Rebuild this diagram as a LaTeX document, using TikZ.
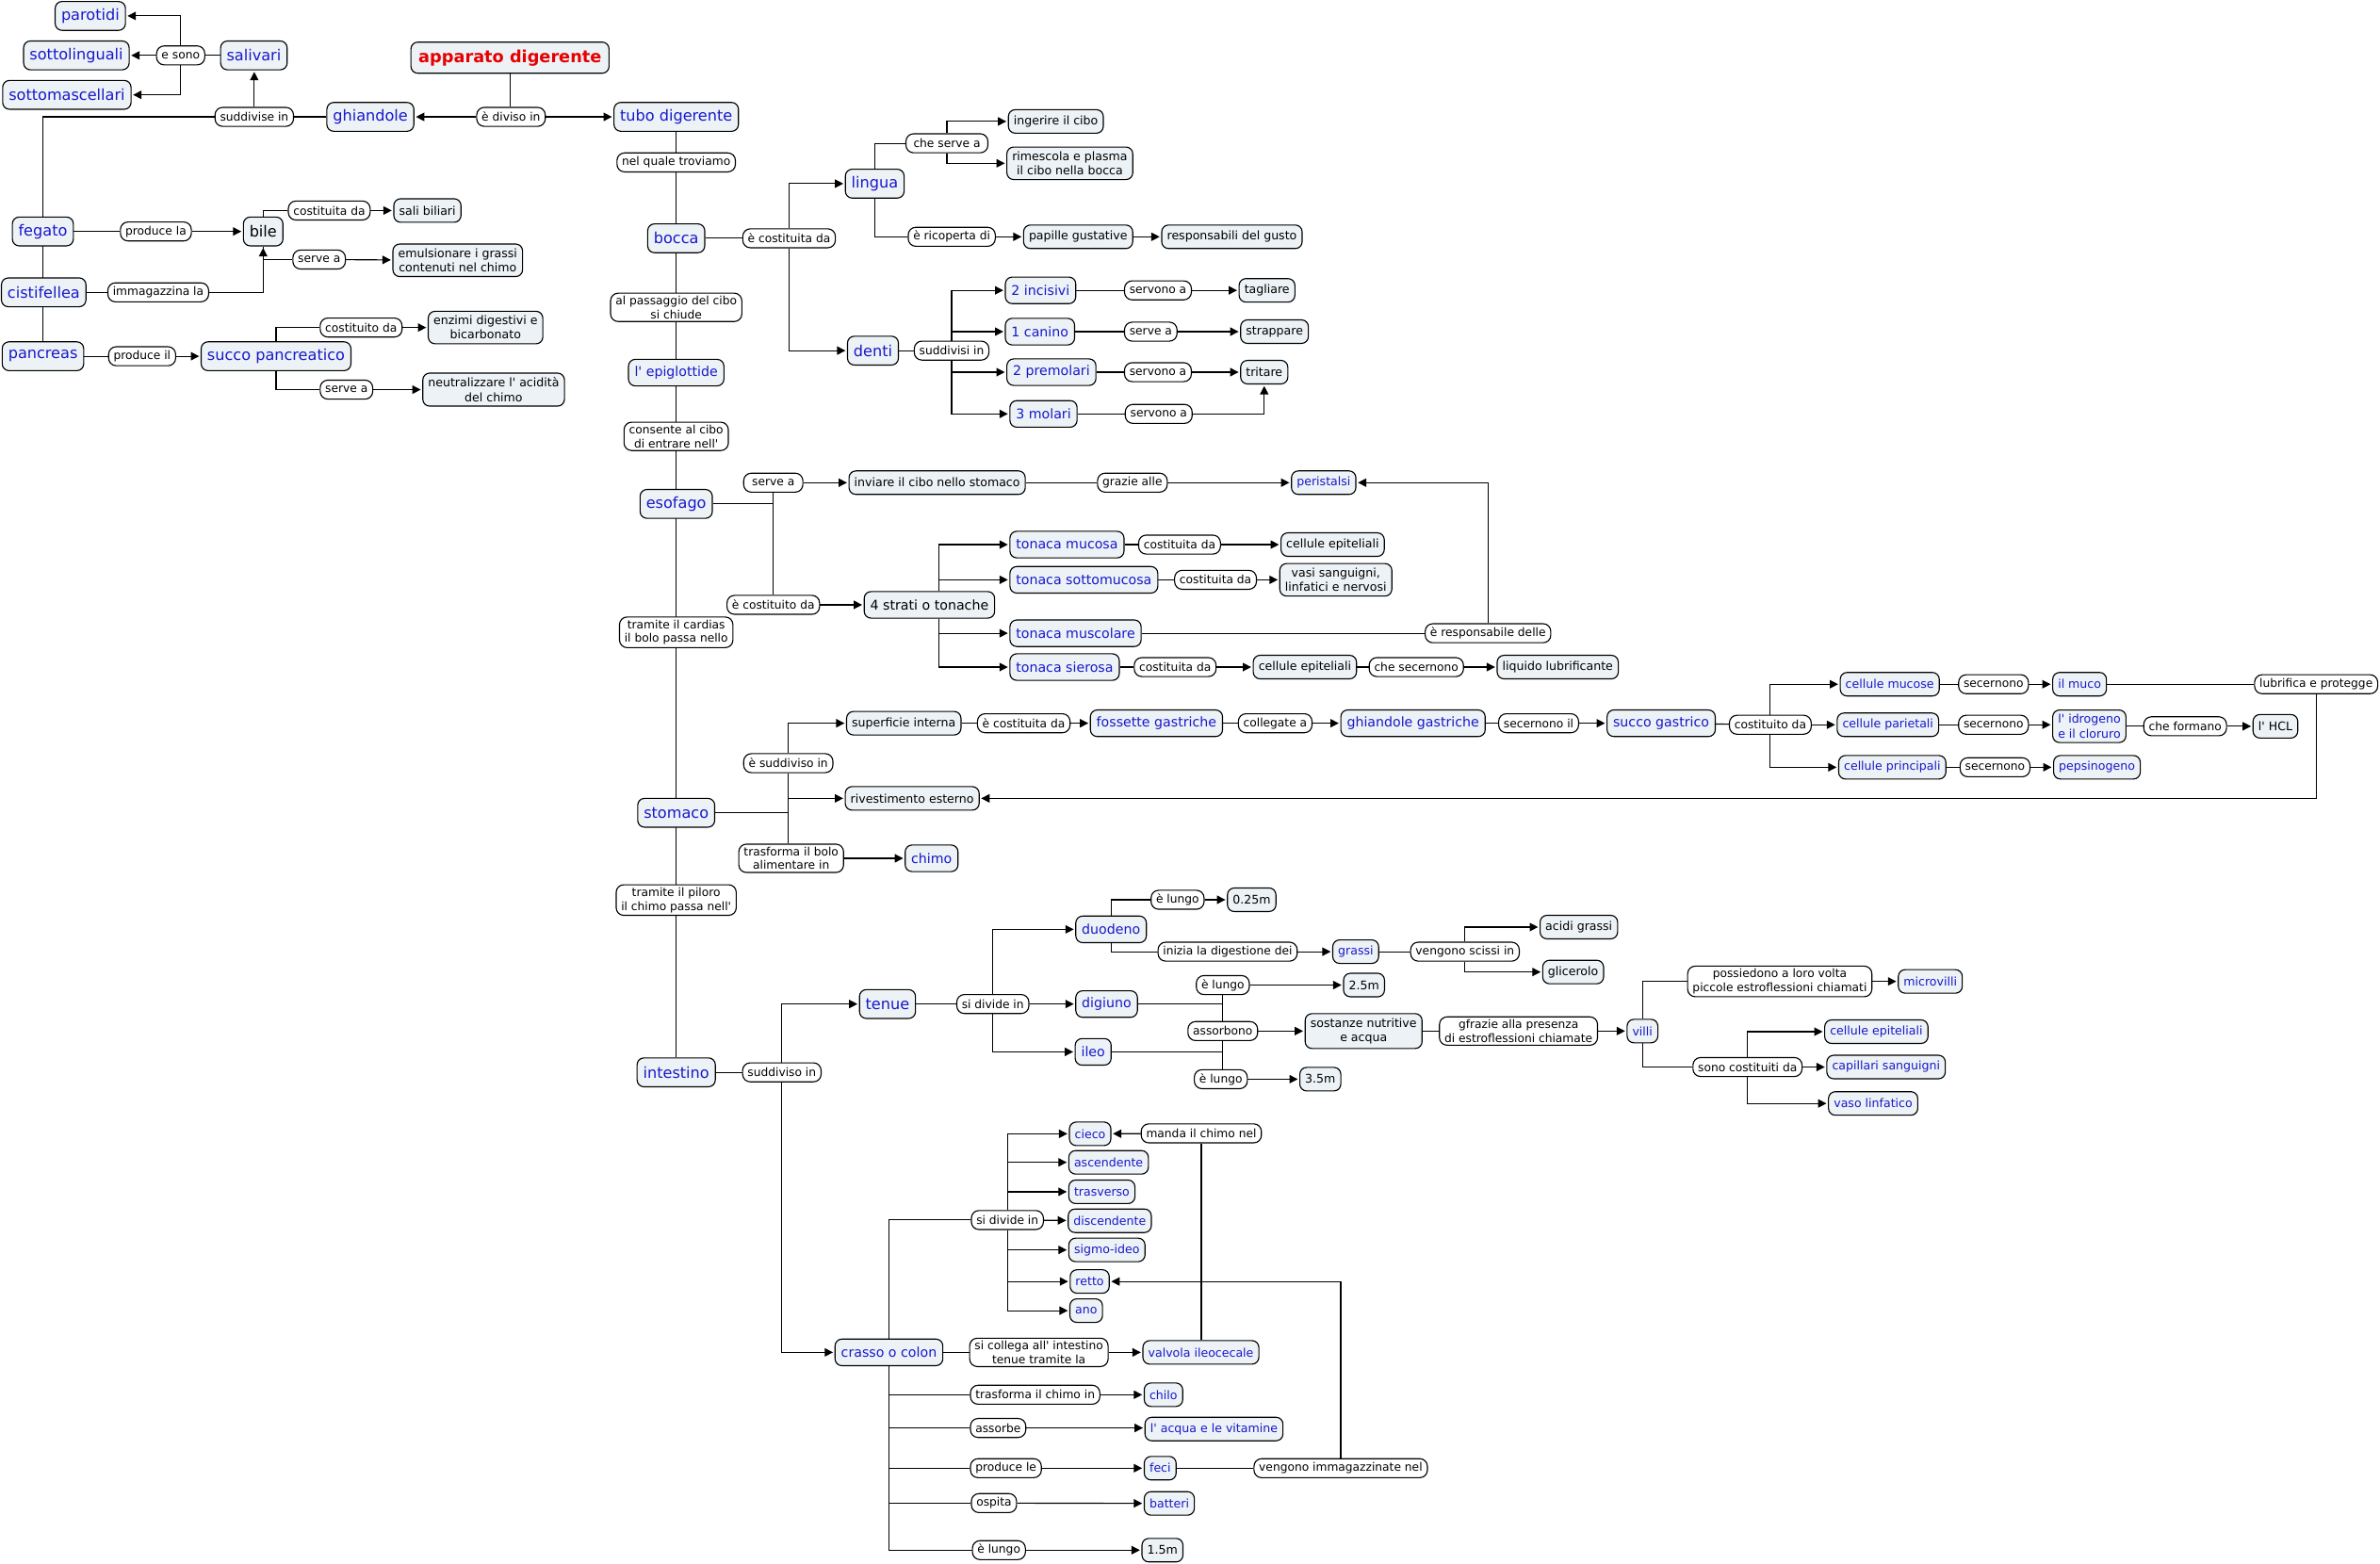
\documentclass[tikz,border=0pt]{standalone}
\usepackage{fontspec}
\setmainfont{DejaVu Sans}[Ligatures=TeXOff]
\usetikzlibrary{arrows.meta,backgrounds}
\definecolor{cfill}{RGB}{236,242,245}
\definecolor{cblue}{RGB}{24,24,204}
\definecolor{cred}{RGB}{230,0,0}
\tikzset{
 basebox/.style={draw=black, line width=0.7pt, rounded corners=4.5pt, align=center},
 big/.style={basebox, fill=cfill, text=cblue, font=\fontsize{10}{12}\selectfont, inner xsep=4pt, inner ysep=3pt, minimum height=19pt},
 mid/.style={basebox, fill=cfill, text=cblue, font=\fontsize{8.8}{10.6}\selectfont, inner xsep=4pt, inner ysep=3pt, minimum height=17.5pt},
 sml/.style={basebox, fill=cfill, text=cblue, font=\fontsize{7.8}{9.4}\selectfont, inner xsep=3.5pt, inner ysep=3pt, minimum height=15.5pt},
 bigk/.style={big, text=black},
 midk/.style={mid, text=black},
 leaf/.style={sml, text=black},
 lab/.style={basebox, fill=white, text=black, font=\fontsize{7.6}{9.2}\selectfont, inner xsep=3.3pt, inner ysep=1.8pt, minimum height=12.5pt, rounded corners=5pt},
 titlebox/.style={basebox, fill=cfill, text=cred, font=\bfseries\fontsize{11}{13}\selectfont, inner xsep=5pt, minimum height=20.5pt},
 ln/.style={line width=0.7pt},
 arr/.style={line width=0.7pt, -{Triangle[length=5.5pt,width=5.5pt]}, shorten >=1pt},
}
\begin{document}
\begin{tikzpicture}[x=1pt,y=-1pt]
\useasboundingbox (0,0) rectangle (1568,1030);

% ---------- top-left ----------
\node[big,anchor=west] (parotidi) at (36,10.5) {parotidi};
\node[big,anchor=west] (sottoling) at (15.2,36.5) {sottolinguali};
\node[big,anchor=west] (sottomasc) at (1.4,62.5) {sottomascellari};
\node[lab,anchor=west] (esono) at (102.8,36.5) {e sono};
\node[big,anchor=west] (salivari) at (145,36.5) {salivari};
\node[lab,anchor=west] (suddivise) at (141.3,77) {suddivise in};
\node[big,anchor=west] (ghiandole) at (215,77) {ghiandole};
\node[titlebox] (apparato) at (336,38) {apparato digerente};
\node[lab,anchor=west] (ediviso) at (313.7,77) {è diviso in};
\node[big] (tubo) at (445.5,77) {tubo digerente};

% ---------- spine ----------
\node[lab] (nelquale) at (445.5,107) {nel quale troviamo};
\node[big] (bocca) at (445.5,157) {bocca};
\node[lab] (passaggio) at (445.5,202.5) {al passaggio del cibo\\si chiude};
\node[mid] (epiglottide) at (445.5,245.5) {l' epiglottide};
\node[lab] (consente) at (445.5,287.5) {consente al cibo\\di entrare nell'};
\node[big] (esofago) at (445.5,332) {esofago};
\node[lab] (cardias) at (445.5,416.6) {tramite il cardias\\il bolo passa nello};
\node[big] (stomaco) at (445.5,535.5) {stomaco};
\node[lab] (piloro) at (445.5,593) {tramite il piloro\\il chimo passa nell'};
\node[big] (intestino) at (445.5,706.5) {intestino};

% ---------- left ----------
\node[big,anchor=west] (fegato) at (7.8,152.5) {fegato};
\node[lab,anchor=west] (producela) at (79,152.5) {produce la};
\node[bigk,anchor=west] (bile) at (160,152.5) {bile};
\node[lab,anchor=west] (costituitab) at (189.6,138.7) {costituita da};
\node[leaf,anchor=west] (sali) at (259.1,138.7) {sali biliari};
\node[lab,anchor=west] (serveab) at (192.6,171) {serve a};
\node[leaf,anchor=west] (emulsionare) at (258.5,171.5) {emulsionare i grassi\\contenuti nel chimo};
\node[big,anchor=west] (cistifellea) at (0.6,192.6) {cistifellea};
\node[lab,anchor=west] (immagazzina) at (70.7,192.6) {immagazzina la};
\node[big,anchor=west] (pancreas) at (1.1,234.7) {pancreas};
\node[lab,anchor=west] (produceil) at (71.2,234.7) {produce il};
\node[big,anchor=west] (succopanc) at (132.2,234.7) {succo pancreatico};
\node[lab,anchor=west] (costituitosp) at (210.6,215.8) {costituito da};
\node[leaf,anchor=west] (enzimi) at (281.8,215.8) {enzimi digestivi e\\bicarbonato};
\node[lab,anchor=west] (serveasp) at (210.6,256.7) {serve a};
\node[leaf,anchor=west] (neutralizzare) at (278.2,256.7) {neutralizzare l' acidità\\del chimo};

% ---------- bocca ----------
\node[lab,anchor=west] (ecostbocca) at (489,157) {è costituita da};
\node[big,anchor=west] (lingua) at (556.6,121) {lingua};
\node[lab,anchor=west,minimum width=54pt] (cheserve) at (596.5,94.4) {che serve a};
\node[leaf,anchor=west] (ingerire) at (664,80) {ingerire il cibo};
\node[leaf,anchor=west] (rimescola) at (663,107.6) {rimescola e plasma\\il cibo nella bocca};
\node[lab,anchor=west] (ricoperta) at (598,156) {è ricoperta di};
\node[leaf,anchor=west] (papille) at (674,156) {papille gustative};
\node[leaf,anchor=west] (responsabili) at (765,156) {responsabili del gusto};
\node[big,anchor=west] (denti) at (558,231) {denti};
\node[lab,anchor=west] (suddivisi) at (602,231) {suddivisi in};
\node[mid,anchor=west] (incisivi) at (662,191.3) {2 incisivi};
\node[mid,anchor=west] (canino) at (662,218.5) {1 canino};
\node[mid,anchor=west] (premolari) at (663,245.2) {2 premolari};
\node[mid,anchor=west] (molari) at (665,272.7) {3 molari};
\node[lab,anchor=west] (servonoa) at (740.5,191.3) {servono a};
\node[lab,anchor=west] (serveb) at (740.5,218.5) {serve a};
\node[lab,anchor=west] (servonob) at (740.5,245.2) {servono a};
\node[lab,anchor=west] (servonoc) at (741,272.7) {servono a};
\node[leaf,anchor=west] (tagliare) at (816,191.3) {tagliare};
\node[leaf,anchor=west] (strappare) at (817,218.5) {strappare};
\node[leaf,anchor=west] (tritare) at (817,245.2) {tritare};

% ---------- esofago ----------
\node[lab,anchor=west,minimum width=39pt] (serveaes) at (489.6,318) {serve a};
\node[leaf,anchor=west] (inviare) at (559,318) {inviare il cibo nello stomaco};
\node[lab,anchor=west] (grazie) at (722.7,318) {grazie alle};
\node[sml,anchor=west] (peristalsi) at (850.5,318) {peristalsi};
\node[lab,anchor=west] (ecostituito) at (478.6,398.5) {è costituito da};
\node[midk,anchor=west] (strati) at (569,398.5) {4 strati o tonache};
\node[mid,anchor=west] (mucosa) at (665,358.8) {tonaca mucosa};
\node[mid,anchor=west] (sottomucosa) at (665,382) {tonaca sottomucosa};
\node[mid,anchor=west] (muscolare) at (665,417.2) {tonaca muscolare};
\node[mid,anchor=west] (sierosa) at (665,439.5) {tonaca sierosa};
\node[lab,anchor=west] (costda) at (749.8,358.8) {costituita da};
\node[leaf,anchor=west] (cellepa) at (843.6,358.8) {cellule epiteliali};
\node[lab,anchor=west] (costdb) at (773.5,382) {costituita da};
\node[leaf,anchor=west] (vasi) at (842.8,382) {vasi sanguigni,\\linfatici e nervosi};
\node[lab,anchor=west] (responsabile) at (938.6,417.2) {è responsabile delle};
\node[lab,anchor=west] (costdc) at (746.9,439.5) {costituita da};
\node[leaf,anchor=west] (cellepb) at (825.3,439.5) {cellule epiteliali};
\node[lab,anchor=west] (chesecernono) at (901.7,439.5) {che secernono};
\node[leaf,anchor=west] (liquido) at (986,439.5) {liquido lubrificante};

% ---------- stomaco ----------
\node[lab,anchor=west] (suddivisost) at (489.6,502.8) {è suddiviso in};
\node[leaf,anchor=west] (superficie) at (557.4,476.5) {superficie interna};
\node[lab,anchor=west] (ecostdasup) at (643.6,476.5) {è costituita da};
\node[mid,anchor=west] (fossette) at (718,476.5) {fossette gastriche};
\node[lab,anchor=west] (collegate) at (815.5,476.5) {collegate a};
\node[mid,anchor=west] (ghgastriche) at (883,476.5) {ghiandole gastriche};
\node[lab,anchor=west] (secernonoil) at (987,476.5) {secernono il};
\node[mid,anchor=west] (succogastrico) at (1058.4,476.5) {succo gastrico};
\node[lab,anchor=west] (costituitosg) at (1139,477.5) {costituito da};
\node[sml,anchor=west] (cellmucose) at (1212,450.8) {cellule mucose};
\node[sml,anchor=west] (cellparietali) at (1210,477.5) {cellule parietali};
\node[sml,anchor=west] (cellprincipali) at (1211,505.5) {cellule principali};
\node[lab,anchor=west] (secernonoa) at (1290,450.8) {secernono};
\node[lab,anchor=west] (secernonob) at (1290,477.5) {secernono};
\node[lab,anchor=west] (secernonoc) at (1291,505.5) {secernono};
\node[sml,anchor=west] (muco) at (1352,450.8) {il muco};
\node[sml,anchor=west] (idrogeno) at (1352,478.5) {l' idrogeno\\e il cloruro};
\node[sml,anchor=west] (pepsinogeno) at (1352.6,505.5) {pepsinogeno};
\node[lab,anchor=west] (cheformano) at (1412,478.5) {che formano};
\node[leaf,anchor=west] (hcl) at (1484,478.5) {l' HCL};
\node[lab,anchor=west] (lubrifica) at (1485,450.8) {lubrifica e protegge};
\node[leaf,anchor=west] (rivestimento) at (556.5,526) {rivestimento esterno};
\node[lab,anchor=west] (trasformast) at (486.4,565.5) {trasforma il bolo\\alimentare in};
\node[mid,anchor=west] (chimo) at (596,565.5) {chimo};

% ---------- intestino tenue ----------
\node[lab,anchor=west] (suddivisoint) at (488.9,706.5) {suddiviso in};
\node[big,anchor=west] (tenue) at (565.9,661.5) {tenue};
\node[lab,anchor=west] (sidividet) at (630,661.5) {si divide in};
\node[mid,anchor=west] (duodeno) at (708.4,612.3) {duodeno};
\node[mid,anchor=west] (digiuno) at (708.4,661.5) {digiuno};
\node[mid,anchor=west] (ileo) at (708,693) {ileo};
\node[lab,anchor=west] (elungod) at (758,592.8) {è lungo};
\node[leaf,anchor=west] (mzerovc) at (808.3,592.8) {0.25m};
\node[lab,anchor=west] (inizia) at (762.6,627) {inizia la digestione dei};
\node[sml,anchor=west] (grassi) at (877.7,627) {grassi};
\node[lab,anchor=west] (vengono) at (929,627) {vengono scissi in};
\node[leaf,anchor=west] (acidi) at (1014.3,610.8) {acidi grassi};
\node[leaf,anchor=west] (glicerolo) at (1016,640.4) {glicerolo};
\node[lab,anchor=west] (elungodg) at (787.8,649) {è lungo};
\node[leaf,anchor=west] (mdue) at (884.8,649) {2.5m};
\node[lab,anchor=west] (assorbono) at (782.3,679.3) {assorbono};
\node[leaf,anchor=west] (sostanze) at (859.5,679.3) {sostanze nutritive\\e acqua};
\node[lab,anchor=west] (gfrazie) at (948,679.3) {gfrazie alla presenza\\di estroflessioni chiamate};
\node[sml,anchor=west] (villi) at (1071.6,679.3) {villi};
\node[lab,anchor=west] (possiedono) at (1111.5,646.6) {possiedono a loro volta\\piccole estroflessioni chiamati};
\node[sml,anchor=west] (microvilli) at (1250.3,646.6) {microvilli};
\node[lab,anchor=west] (sonocost) at (1115,703) {sono costituiti da};
\node[sml,anchor=west] (cellepc) at (1201.8,679.7) {cellule epiteliali};
\node[sml,anchor=west] (capillari) at (1203.2,703) {capillari sanguigni};
\node[sml,anchor=west] (vaso) at (1204.3,727) {vaso linfatico};
\node[lab,anchor=west] (elungoi) at (786.5,711) {è lungo};
\node[leaf,anchor=west] (mtre) at (856,711) {3.5m};

% ---------- crasso ----------
\node[mid,anchor=west] (crasso) at (549.8,891) {crasso o colon};
\node[lab,anchor=west] (sidividec) at (639.6,803.8) {si divide in};
\node[sml,anchor=west] (cieco) at (704.2,747) {cieco};
\node[sml,anchor=west] (ascendente) at (703.8,765.8) {ascendente};
\node[sml,anchor=west] (trasverso) at (703.8,785.2) {trasverso};
\node[sml,anchor=west] (discendente) at (703.4,804.3) {discendente};
\node[sml,anchor=west] (sigmo) at (703.8,823.5) {sigmo-ideo};
\node[sml,anchor=west] (retto) at (704.7,844.3) {retto};
\node[sml,anchor=west] (ano) at (704.5,863.5) {ano};
\node[lab,anchor=west] (manda) at (751.5,746.7) {manda il chimo nel};
\node[lab,anchor=west] (collega) at (638.5,891) {si collega all' intestino\\tenue tramite la};
\node[sml,anchor=west] (valvola) at (752.6,891) {valvola ileocecale};
\node[lab,anchor=west] (trasformac) at (639,918.9) {trasforma il chimo in};
\node[sml,anchor=west] (chilo) at (753.5,918.9) {chilo};
\node[lab,anchor=west] (assorbe) at (639,940.8) {assorbe};
\node[sml,anchor=west] (acqua) at (754,941.5) {l' acqua e le vitamine};
\node[lab,anchor=west] (producele) at (639,967.3) {produce le};
\node[sml,anchor=west] (feci) at (753.5,967.3) {feci};
\node[lab,anchor=west] (vengonoimm) at (825.8,967.3) {vengono immagazzinate nel};
\node[lab,anchor=west] (ospita) at (639.6,990.3) {ospita};
\node[sml,anchor=west] (batteri) at (753.5,990.5) {batteri};
\node[lab,anchor=west] (elungoc) at (640.3,1021.3) {è lungo};
\node[leaf,anchor=west] (muno) at (752,1021.3) {1.5m};

\begin{pgfonlayer}{background}
\fill[white] (0,0) rectangle (1568,1030);
% top-left
\draw[ln] (esono) -- (salivari);
\draw[arr] (esono.north) |- (parotidi.east);
\draw[arr] (esono) -- (sottoling);
\draw[arr] (esono.south) |- (sottomasc.east);
\draw[arr] (suddivise.north) -- (suddivise.north |- salivari.south);
\draw[ln] (ghiandole) -- (suddivise);
\draw[ln] (suddivise.west) -| (fegato.north);
\draw[ln] (apparato.south) -- (apparato.south |- ediviso.north);
\draw[arr] (ediviso) -- (ghiandole);
\draw[arr] (ediviso) -- (tubo);
% spine
\draw[ln] (tubo) -- (intestino);
% left
\draw[ln] (fegato.center) -- (fegato.center |- pancreas.center);
\draw[ln] (fegato) -- (producela);
\draw[arr] (producela) -- (bile);
\draw[ln] (bile.north) |- (costituitab.west);
\draw[arr] (costituitab) -- (sali);
\draw[ln] (bile.south) |- (serveab.west);
\draw[arr] (serveab) -- (emulsionare);
\draw[ln] (cistifellea) -- (immagazzina);
\draw[arr] (immagazzina.east) -| (bile.south);
\draw[ln] (pancreas) -- (produceil);
\draw[arr] (produceil) -- (succopanc);
\draw[ln] (succopanc.north) |- (costituitosp.west);
\draw[arr] (costituitosp) -- (enzimi);
\draw[ln] (succopanc.south) |- (serveasp.west);
\draw[arr] (serveasp) -- (neutralizzare);
% bocca
\draw[ln] (bocca) -- (ecostbocca);
\draw[arr] (ecostbocca.north) |- (lingua.west);
\draw[arr] (ecostbocca.south) |- (denti.west);
\draw[ln] (lingua.north) |- (cheserve.west);
\draw[arr] (cheserve.north) |- (ingerire.west);
\draw[arr] (cheserve.south) |- (rimescola.west);
\draw[ln] (lingua.south) |- (ricoperta.west);
\draw[arr] (ricoperta) -- (papille);
\draw[arr] (papille) -- (responsabili);
\draw[ln] (denti) -- (suddivisi);
\draw[arr] (suddivisi.north) |- (incisivi.west);
\draw[arr] (suddivisi.north) |- (canino.west);
\draw[arr] (suddivisi.south) |- (premolari.west);
\draw[arr] (suddivisi.south) |- (molari.west);
\draw[ln] (incisivi) -- (servonoa);
\draw[arr] (servonoa) -- (tagliare);
\draw[ln] (canino) -- (serveb);
\draw[arr] (serveb) -- (strappare);
\draw[ln] (premolari) -- (servonob);
\draw[arr] (servonob) -- (tritare);
\draw[ln] (molari) -- (servonoc);
\draw[arr] (servonoc.east) -| (tritare.south);
% esofago
\draw[ln] (esofago.east) -- (esofago.east -| serveaes.south);
\draw[ln] (serveaes.south) -- (serveaes.south |- ecostituito.north);
\draw[arr] (serveaes) -- (inviare);
\draw[ln] (inviare) -- (grazie);
\draw[arr] (grazie) -- (peristalsi);
\draw[arr] (ecostituito) -- (strati);
\draw[arr] ([xshift=6pt]strati.north) |- (mucosa.west);
\draw[arr] ([xshift=6pt]strati.north) |- (sottomucosa.west);
\draw[arr] ([xshift=6pt]strati.south) |- (muscolare.west);
\draw[arr] ([xshift=6pt]strati.south) |- (sierosa.west);
\draw[ln] (mucosa) -- (costda);
\draw[arr] (costda) -- (cellepa);
\draw[ln] (sottomucosa) -- (costdb);
\draw[arr] (costdb) -- (vasi);
\draw[ln] (muscolare) -- (responsabile);
\draw[arr] (responsabile.north) |- (peristalsi.east);
\draw[ln] (sierosa) -- (costdc);
\draw[arr] (costdc) -- (cellepb);
\draw[ln] (cellepb) -- (chesecernono);
\draw[arr] (chesecernono) -- (liquido);
% stomaco
\draw[ln] (stomaco.east) -- (stomaco.east -| suddivisost.south);
\draw[ln] (suddivisost.south) -- (suddivisost.south |- trasformast.north);
\draw[arr] (suddivisost.north) |- (superficie.west);
\draw[arr] (suddivisost.south |- rivestimento.west) -- (rivestimento.west);
\draw[arr] (trasformast) -- (chimo);
\draw[ln] (superficie) -- (ecostdasup);
\draw[arr] (ecostdasup) -- (fossette);
\draw[ln] (fossette) -- (collegate);
\draw[arr] (collegate) -- (ghgastriche);
\draw[ln] (ghgastriche) -- (secernonoil);
\draw[arr] (secernonoil) -- (succogastrico);
\draw[ln] (succogastrico) -- (costituitosg);
\draw[arr] (costituitosg.north) |- (cellmucose.west);
\draw[arr] (costituitosg) -- (cellparietali);
\draw[arr] (costituitosg.south) |- (cellprincipali.west);
\draw[ln] (cellmucose) -- (secernonoa);
\draw[arr] (secernonoa) -- (muco);
\draw[ln] (cellparietali) -- (secernonob);
\draw[arr] (secernonob.east) -- (secernonob.east -| idrogeno.west);
\draw[ln] (cellprincipali) -- (secernonoc);
\draw[arr] (secernonoc) -- (pepsinogeno);
\draw[ln] (idrogeno) -- (cheformano);
\draw[arr] (cheformano) -- (hcl);
\draw[ln] (muco) -- (lubrifica);
\draw[arr] (lubrifica.south) |- (rivestimento.east);
% tenue
\draw[ln] (intestino) -- (suddivisoint);
\draw[arr] (suddivisoint.north) |- (tenue.west);
\draw[arr] (suddivisoint.south) |- (crasso.west);
\draw[ln] (tenue) -- (sidividet);
\draw[arr] (sidividet.north) |- (duodeno.west);
\draw[arr] (sidividet) -- (digiuno);
\draw[arr] (sidividet.south) |- (ileo.west);
\draw[ln] (duodeno.north) |- (elungod.west);
\draw[arr] (elungod) -- (mzerovc);
\draw[ln] (duodeno.south) |- (inizia.west);
\draw[arr] (inizia) -- (grassi);
\draw[ln] (grassi) -- (vengono);
\draw[arr] (vengono.north) |- (acidi.west);
\draw[arr] (vengono.south) |- (glicerolo.west);
\draw[ln] (elungodg.center) -- (elungodg.center |- elungoi.center);
\draw[ln] (digiuno.east) -- (digiuno.east -| elungodg.center);
\draw[ln] (ileo.east) -- (ileo.east -| elungodg.center);
\draw[arr] (elungodg) -- (mdue);
\draw[arr] (assorbono) -- (sostanze);
\draw[arr] (elungoi) -- (mtre);
\draw[ln] (sostanze) -- (gfrazie);
\draw[arr] (gfrazie) -- (villi);
\draw[ln] (villi.north) |- (possiedono.west);
\draw[ln] (villi.south) |- (sonocost.west);
\draw[arr] (possiedono) -- (microvilli);
\draw[arr] (sonocost.north) |- (cellepc.west);
\draw[arr] (sonocost) -- (capillari);
\draw[arr] (sonocost.south) |- (vaso.west);
% crasso
\draw[ln] (crasso.north) |- (sidividec.west);
\draw[arr] (sidividec.north) |- (cieco.west);
\draw[arr] (sidividec.north) |- (ascendente.west);
\draw[arr] (sidividec.north) |- (trasverso.west);
\draw[arr] (sidividec) -- (discendente);
\draw[arr] (sidividec.south) |- (sigmo.west);
\draw[arr] (sidividec.south) |- (retto.west);
\draw[arr] (sidividec.south) |- (ano.west);
\draw[arr] (manda) -- (cieco);
\draw[ln] (manda.south) -- (manda.south |- valvola.north);
\draw[ln] (crasso) -- (collega);
\draw[arr] (collega) -- (valvola);
\draw[ln] (crasso.south) |- (elungoc.west);
\draw[ln] (crasso.south |- trasformac.west) -- (trasformac.west);
\draw[ln] (crasso.south |- assorbe.west) -- (assorbe.west);
\draw[ln] (crasso.south |- producele.west) -- (producele.west);
\draw[ln] (crasso.south |- ospita.west) -- (ospita.west);
\draw[arr] (trasformac) -- (chilo);
\draw[arr] (assorbe.east) -- (assorbe.east -| acqua.west);
\draw[arr] (producele) -- (feci);
\draw[arr] (ospita) -- (batteri);
\draw[arr] (elungoc) -- (muno);
\draw[ln] (feci) -- (vengonoimm);
\draw[arr] (vengonoimm.north) |- (retto.east);
\end{pgfonlayer}
\end{tikzpicture}
\end{document}
